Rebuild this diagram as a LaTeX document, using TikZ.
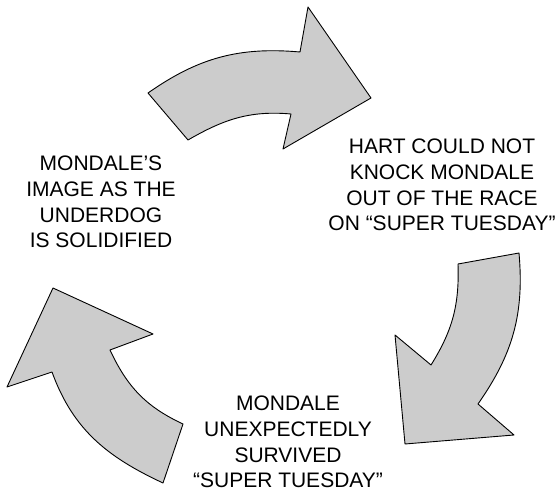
\documentclass[tikz,border=0pt]{standalone}
\usepackage{fontspec}
\setmainfont{Liberation Sans}
\usepackage{xcolor}
\definecolor{bg}{HTML}{FFFFFF}
\definecolor{arrowfill}{HTML}{CCCCCC}
\definecolor{ink}{HTML}{000000}
\tikzset{
  blockarrow/.style={draw=ink, fill=arrowfill, line width=0.9pt, line join=round},
  lab/.style={text=ink, align=center, inner sep=0pt, font=\fontsize{21}{25.7}\selectfont},
}
\begin{document}
\begin{tikzpicture}[x=1pt,y=1pt]
  \useasboundingbox[fill=bg] (0,0) rectangle (557,492);
  % top arrow
  \draw[blockarrow] (148,399) to[out=35,in=175] (300,440) -- (308,485) -- (371,394)
    -- (283,343) -- (291,378) to[out=175,in=30] (188,352) -- cycle;
  % right arrow
  \draw[blockarrow] (519,239) to[out=-85,in=55] (478,88) -- (514,57) -- (405,48)
    -- (395,157) -- (431,127) to[out=58,in=-88] (458,228) -- cycle;
  % left arrow
  \draw[blockarrow] (163,9) to[out=155,in=-70] (52,120) -- (7,105) -- (53,204)
    -- (153,158) -- (110,142) to[out=-65,in=155] (183,68) -- cycle;
  % texts
  \node[lab] (image) at (101,290) {MONDALE’S\\IMAGE AS THE\\UNDERDOG\\IS SOLIDIFIED};
  \node[lab] (hart) at (442,307) {HART COULD NOT\\KNOCK MONDALE\\OUT OF THE RACE\\ON “SUPER TUESDAY”};
  \node[lab] (survived) at (288,50) {MONDALE\\UNEXPECTEDLY\\SURVIVED\\“SUPER TUESDAY”};
\end{tikzpicture}
\end{document}
